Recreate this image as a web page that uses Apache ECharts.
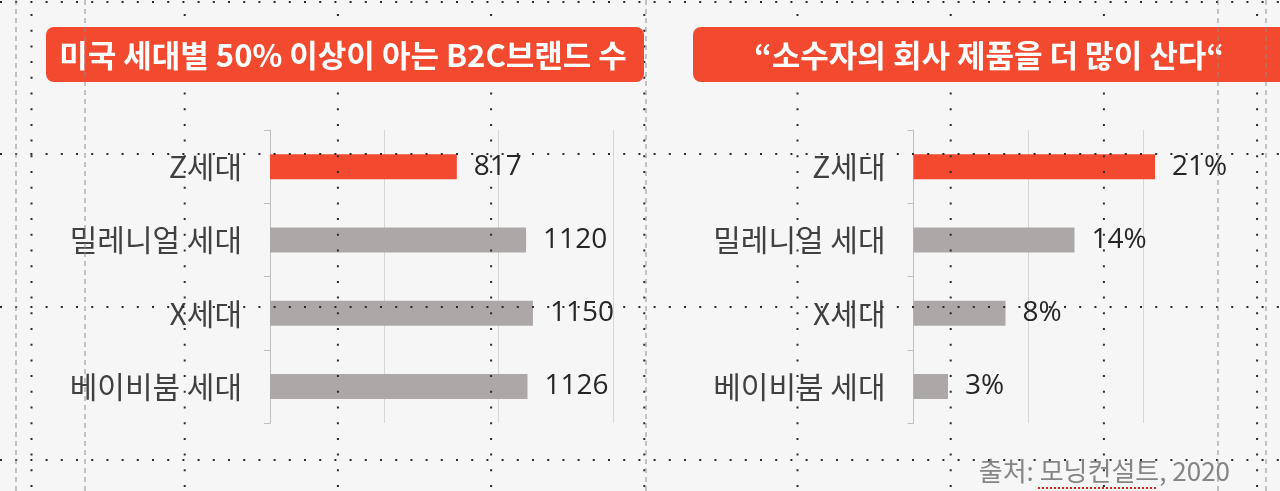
<!DOCTYPE html>
<html>
<head>
<meta charset="utf-8">
<script src="https://cdn.jsdelivr.net/npm/echarts@6/dist/echarts.min.js"></script>
<style>
html,body{margin:0;padding:0;background:#f6f6f6;}
#c{width:1280px;height:491px;}
</style>
</head>
<body>
<div id="c"></div>
<script>
// ---- data ----
const categories = ['Z세대', '밀레니얼 세대', 'X세대', '베이비붐 세대'];
const brandCounts = [817, 1120, 1150, 1126];      // 미국 세대별 50% 이상이 아는 B2C브랜드 수
const buyMinorityShare = [21, 14, 8, 3];          // % "소수자의 회사 제품을 더 많이 산다"
const titleLeft = '미국 세대별 50% 이상이 아는 B2C브랜드 수';
const titleRight = '“소수자의 회사 제품을 더 많이 산다“';
const sourceText = '출처: 모닝컨설트, 2020';

// ---- styles ----
const RED = '#f2492f';
const GREY = '#ada8a8';
const FONT = '"Noto Sans CJK KR", "Noto Sans", sans-serif';
const NUMFONT = '"Open Sans", "Noto Sans CJK KR", sans-serif';

function barData(vals) {
  return vals.map((v, i) => ({ value: v, itemStyle: { color: i === 0 ? RED : GREY } }));
}

// decorative guide lines (layout only)
const guides = [];
[2, 154, 307, 460].forEach(y => guides.push({
  type: 'line', z: 5, silent: true,
  shape: { x1: 0, y1: y, x2: 1280, y2: y },
  style: { stroke: '#2a2a2a', lineWidth: 2, lineDash: [2, 13.2] }
}));
for (let k = 0; k < 9; k++) {
  const x = 31.5 + 153.2 * k;
  guides.push({
    type: 'line', z: 5, silent: true,
    shape: { x1: x, y1: 14, x2: x, y2: 491 },
    style: { stroke: '#2a2a2a', lineWidth: 2, lineDash: [2, 13.7] }
  });
}
[16, 85, 646, 1218, 1266].forEach(x => guides.push({
  type: 'line', z: 30, silent: true,
  shape: { x1: x, y1: 0, x2: x, y2: 491 },
  style: { stroke: '#8c8c8c', lineWidth: 1.3, lineDash: [5, 4], opacity: 0.75 }
}));

const chart = echarts.init(document.getElementById('c'), null, { renderer: 'canvas' });

const catAxis = (gi) => ({
  type: 'category', gridIndex: gi, data: categories, inverse: true,
  axisLine: { lineStyle: { color: '#bfbfbf', width: 1 } },
  axisTick: { show: true, length: 6, lineStyle: { color: '#bfbfbf' } },
  axisLabel: { fontSize: 30, color: '#404040', fontFamily: FONT, margin: 28 }
});

chart.setOption({
  backgroundColor: '#f6f6f6',
  animation: false,
  grid: [
    { left: 270, top: 130, width: 343, height: 293 },
    { left: 913.5, top: 130, width: 345, height: 293 }
  ],
  xAxis: [
    { type: 'value', gridIndex: 0, min: 0, max: 1500, interval: 500,
      axisLine: { show: false }, axisTick: { show: false }, axisLabel: { show: false },
      splitLine: { lineStyle: { color: '#d6d6d6', width: 1 } } },
    { type: 'value', gridIndex: 1, min: 0, max: 30, interval: 10,
      axisLine: { show: false }, axisTick: { show: false }, axisLabel: { show: false },
      splitLine: { lineStyle: { color: ['#d6d6d6', '#d6d6d6', '#d6d6d6', 'rgba(0,0,0,0)'], width: 1 } } }
  ],
  yAxis: [catAxis(0), catAxis(1)],
  series: [
    { type: 'bar', xAxisIndex: 0, yAxisIndex: 0, data: barData(brandCounts), barWidth: 25,
      label: { show: true, position: 'right', distance: 17, fontSize: 28, color: '#262626', fontFamily: NUMFONT } },
    { type: 'bar', xAxisIndex: 1, yAxisIndex: 1, data: barData(buyMinorityShare), barWidth: 25,
      label: { show: true, position: 'right', distance: 17, fontSize: 28, color: '#262626', fontFamily: NUMFONT,
        formatter: p => p.value + '%' } }
  ],
  graphic: guides.concat([
    { type: 'rect', z: 10, silent: true, shape: { x: 46, y: 27, width: 598, height: 55, r: 8 }, style: { fill: RED } },
    { type: 'rect', z: 10, silent: true, shape: { x: 693, y: 27, width: 640, height: 55, r: 8 }, style: { fill: RED } },
    { type: 'text', z: 11, silent: true, x: 343, y: 55,
      style: { text: titleLeft, fill: '#ffffff', font: 'bold 31px ' + FONT, align: 'center', verticalAlign: 'middle' } },
    { type: 'text', z: 11, silent: true, x: 989, y: 55,
      style: { text: titleRight, fill: '#ffffff', font: 'bold 31px ' + FONT, align: 'center', verticalAlign: 'middle' } },
    { type: 'text', z: 11, silent: true, x: 1230, y: 471,
      style: { text: sourceText, fill: '#858585', font: '26px ' + FONT, align: 'right', verticalAlign: 'middle' } },
    { type: 'line', z: 11, silent: true, shape: { x1: 1038, y1: 488, x2: 1156, y2: 488 },
      style: { stroke: '#e02020', lineWidth: 2, lineDash: [2, 2] } }
  ])
});
</script>
</body>
</html>
